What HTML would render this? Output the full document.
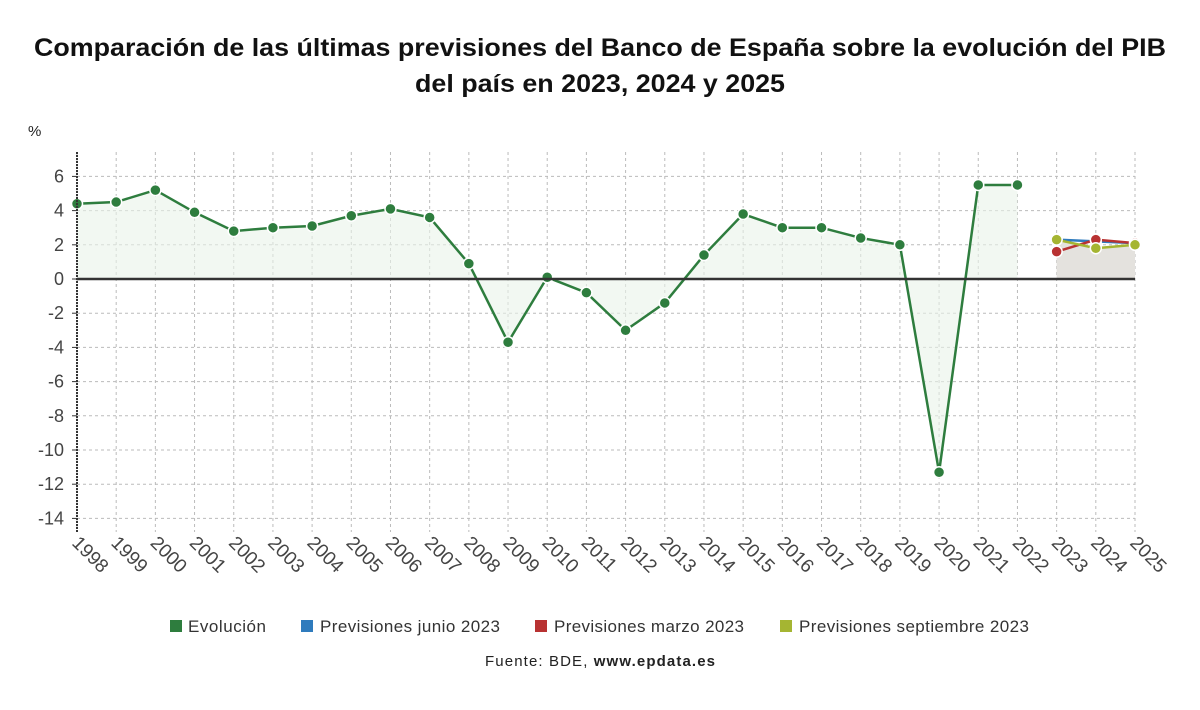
<!DOCTYPE html>
<html><head><meta charset="utf-8"><style>
body{margin:0;background:#fff;font-family:"Liberation Sans","DejaVu Sans",sans-serif}
</style></head><body>
<svg id="c" width="1200" height="705" xmlns="http://www.w3.org/2000/svg">
<text x="600" y="56" text-anchor="middle" font-size="25" font-weight="bold" fill="#111" textLength="1132" lengthAdjust="spacingAndGlyphs">Comparación de las últimas previsiones del Banco de España sobre la evolución del PIB</text>
<text x="600" y="92" text-anchor="middle" font-size="25" font-weight="bold" fill="#111" textLength="370" lengthAdjust="spacingAndGlyphs">del país en 2023, 2024 y 2025</text>
<text x="28" y="136" font-size="15" fill="#222">%</text>
<g id="grid"></g><g id="areas"></g><g id="lines"></g><g id="axes"></g>
<g font-size="17" fill="#333">
<rect x="170" y="620" width="12" height="12" fill="#2e7d3e"/><text x="188" y="632" textLength="78">Evolución</text>
<rect x="301" y="620" width="12" height="12" fill="#2f7bbd"/><text x="320" y="632" textLength="180">Previsiones junio 2023</text>
<rect x="535" y="620" width="12" height="12" fill="#b83232"/><text x="554" y="632" textLength="190">Previsiones marzo 2023</text>
<rect x="780" y="620" width="12" height="12" fill="#a5b532"/><text x="799" y="632" textLength="230">Previsiones septiembre 2023</text>
</g>
<text x="600" y="666" text-anchor="middle" font-size="15" fill="#222" textLength="230">Fuente: BDE, <tspan font-weight="bold">www.epdata.es</tspan></text>
</svg>
<script>
const years=[1998,1999,2000,2001,2002,2003,2004,2005,2006,2007,2008,2009,2010,2011,2012,2013,2014,2015,2016,2017,2018,2019,2020,2021,2022,2023,2024,2025];
const evolYears=[1998,1999,2000,2001,2002,2003,2004,2005,2006,2007,2008,2009,2010,2011,2012,2013,2014,2015,2016,2017,2018,2019,2020,2021,2022];
const evolucion=[4.4,4.5,5.2,3.9,2.8,3.0,3.1,3.7,4.1,3.6,0.9,-3.7,0.1,-0.8,-3.0,-1.4,1.4,3.8,3.0,3.0,2.4,2.0,-11.3,5.5,5.5];
const forecastYears=[2023,2024,2025];
const junio=[2.3,2.2,2.1];
const marzo=[1.6,2.3,2.1];
const septiembre=[2.3,1.8,2.0];
const yTicks=[6,4,2,0,-2,-4,-6,-8,-10,-12,-14];
const NS="http://www.w3.org/2000/svg";
const X0=77,X1=1135,YT=152,YB=532;
const x=y=>X0+(y-1998)*(X1-X0)/27;
const yv=v=>279-v*17.1;
function mk(t,a,p){const e=document.createElementNS(NS,t);for(const k in a)e.setAttribute(k,a[k]);(p||document.getElementById('c')).appendChild(e);return e;}
const grid=document.getElementById('grid'),areas=document.getElementById('areas'),lines=document.getElementById('lines'),axes=document.getElementById('axes');
yTicks.forEach(t=>{
 const l=mk('line',{x1:X0,x2:X1,y1:yv(t),y2:yv(t),stroke:'#bbb','stroke-dasharray':'3,3'},grid);
 
 
 const tx=mk('text',{x:64,y:yv(t)+6,'text-anchor':'end','font-size':18,fill:'#444'},axes);tx.textContent=t;
 
 
 mk('line',{x1:72,x2:X0,y1:yv(t),y2:yv(t),stroke:'#333'},axes);
});
years.forEach(yr=>{
 const l=mk('line',{x1:x(yr),x2:x(yr),y1:YT,y2:YB,stroke:'#bbb','stroke-dasharray':'3,3'},grid);
 
 
 const tx=mk('text',{x:0,y:0,'font-size':19,fill:'#444',transform:`translate(${x(yr)-6},${YB+12}) rotate(45)`},axes);tx.textContent=yr;
 
 
});
let d='M'+x(evolYears[0])+','+yv(0);evolYears.forEach((yr,i)=>d+=' L'+x(yr)+','+yv(evolucion[i]));d+=' L'+x(evolYears[evolYears.length-1])+','+yv(0)+'Z';
const a1=mk('path',{d:d,fill:'#e9f3ea','fill-opacity':0.6},areas);


let d2='M'+x(forecastYears[0])+','+yv(0);forecastYears.forEach((yr,i)=>d2+=' L'+x(yr)+','+yv(septiembre[i]));d2+=' L'+x(2025)+','+yv(0)+'Z';
const a2=mk('path',{d:d2,fill:'#e4e2de'},areas);


mk('line',{x1:X0,x2:X1,y1:yv(0),y2:yv(0),stroke:'#333','stroke-width':2.5},axes);
mk('line',{x1:X0,x2:X0,y1:YT,y2:YB,stroke:'#333','stroke-width':2,'stroke-dasharray':'2,1'},axes);
function series(xs,vals,color,name){
 const p=mk('polyline',{points:xs.map((yr,i)=>x(yr)+','+yv(vals[i])).join(' '),fill:'none',stroke:color,'stroke-width':2.5},lines);
 
 
 xs.forEach((yr,i)=>{const c=mk('circle',{cx:x(yr),cy:yv(vals[i]),r:5.5,fill:color,stroke:'#fff','stroke-width':1.5},lines);
 
 });
}
series(evolYears,evolucion,'#2e7d3e','evolucion');
series(forecastYears,junio,'#2f7bbd','junio');
series(forecastYears,marzo,'#b83232','marzo');
series(forecastYears,septiembre,'#a5b532','septiembre');
</script>
</body></html>
